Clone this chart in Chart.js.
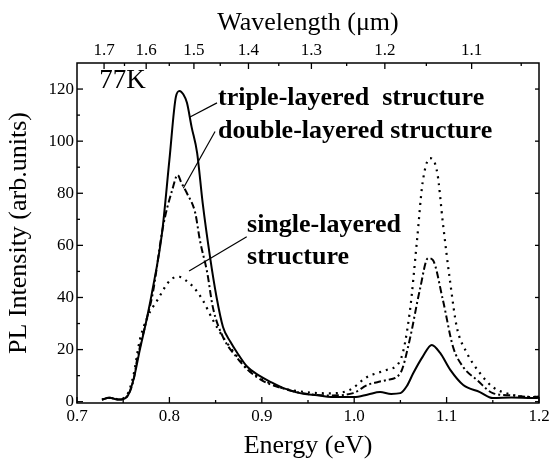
<!DOCTYPE html>
<html lang="en">
<head>
<meta charset="UTF-8">
<title>PL spectra at 77K</title>
<script src="https://cdn.jsdelivr.net/npm/chart.js"></script>
<style>
  body { margin: 0; background: #fff; }
</style>
</head>
<body>
<canvas id="plChart" width="556" height="462"></canvas>
<script>
// tick labels
const energyTicks = [0.7, 0.8, 0.9, 1.0, 1.1, 1.2];
const energyMinor = [0.75, 0.85, 0.95, 1.05, 1.15];
const intensityTicks = [0, 20, 40, 60, 80, 100, 120];
const intensityMinor = [10, 30, 50, 70, 90, 110];
const wavelengthTicks = [1.7, 1.6, 1.5, 1.4, 1.3, 1.2, 1.1];
const wavelengthMinor = [1.65, 1.55, 1.45, 1.35, 1.25, 1.15, 1.05];
const HC = 1.2398; // eV * um

// triple-layered (solid)
const tripleE = [0.727, 0.735, 0.745, 0.754, 0.761, 0.768, 0.775, 0.781, 0.792, 0.800, 0.807, 0.811, 0.815, 0.819, 0.824, 0.830, 0.836, 0.844, 0.851, 0.858, 0.866, 0.873, 0.884, 0.895, 0.910, 0.925, 0.945, 0.960, 0.975, 0.990, 1.000, 1.015, 1.028, 1.040, 1.050, 1.057, 1.064, 1.074, 1.084, 1.093, 1.104, 1.118, 1.136, 1.150, 1.170, 1.193, 1.200];
const tripleI = [0.8, 1.5, 0.8, 1.8, 8.3, 19.9, 31, 41.6, 64.7, 92.8, 117, 119.3, 118, 114.7, 105.5, 95.5, 76.3, 55.5, 40.2, 28.7, 23, 19, 13.5, 10.5, 7.5, 5, 3, 2.5, 1.8, 1.8, 1.8, 2.8, 3.7, 3.0, 3.3, 6, 11, 17.2, 21.8, 18.7, 12.2, 6.4, 3.7, 1.4, 1.6, 1.4, 1.5];

// double-layered (dash-dot)
const doubleE = [0.727, 0.735, 0.745, 0.754, 0.761, 0.765, 0.775, 0.782, 0.793, 0.803, 0.809, 0.813, 0.819, 0.828, 0.833, 0.841, 0.847, 0.858, 0.873, 0.884, 0.901, 0.920, 0.945, 0.974, 0.999, 1.014, 1.025, 1.035, 1.050, 1.060, 1.071, 1.080, 1.085, 1.096, 1.107, 1.118, 1.133, 1.150, 1.170, 1.193, 1.200];
const doubleI = [0.8, 1.5, 0.8, 2, 8, 16, 31, 41.6, 67, 81.2, 87, 84, 80, 72.4, 62, 49.4, 36.3, 24.8, 17, 12.5, 8, 5.4, 3.2, 2.4, 3.3, 6.4, 7.5, 8.3, 11, 23.7, 42.9, 55.1, 54.4, 39, 21, 13.3, 8.3, 3.3, 2.4, 1.8, 2];

// single-layered (dotted)
const singleE = [0.727, 0.735, 0.745, 0.754, 0.761, 0.768, 0.777, 0.787, 0.801, 0.811, 0.818, 0.826, 0.836, 0.847, 0.858, 0.873, 0.884, 0.901, 0.920, 0.945, 0.974, 0.995, 1.014, 1.025, 1.035, 1.050, 1.060, 1.068, 1.074, 1.082, 1.090, 1.096, 1.104, 1.111, 1.122, 1.136, 1.150, 1.172, 1.193, 1.200];
const singleI = [0.8, 1.5, 1, 2.5, 10, 23.7, 33, 39, 46.7, 47.9, 46.5, 44, 39, 31.4, 24.8, 17.5, 12.8, 8.5, 5.5, 3.8, 3.2, 4.5, 9.5, 11, 12.2, 16, 34, 62, 84, 93.5, 87.7, 68.5, 45.5, 28.7, 18.7, 11, 5.6, 2.6, 1.8, 2];

const SERIF = "'Liberation Serif', 'Times New Roman', serif";

// text labels and leader lines, in data units
const labels = [
  { text: '77K', x: 0.724, y: 120.4, bold: false, size: 27 },
  { text: 'triple-layered  structure', x: 0.8526, y: 113.9, bold: true, size: 26 },
  { text: 'double-layered structure', x: 0.8526, y: 101.2, bold: true, size: 26 },
  { text: 'single-layered', x: 0.884, y: 65.1, bold: true, size: 26 },
  { text: 'structure', x: 0.884, y: 52.8, bold: true, size: 26 }
];
const leaders = [
  [0.8515, 114.7, 0.8223, 109.3],
  [0.8494, 103.7, 0.815, 81.9],
  [0.8837, 63.3, 0.8213, 50.2]
];

function toPoints(xs, ys) {
  return xs.map((x, i) => ({ x: x, y: ys[i] }));
}

const framePlugin = {
  id: 'frame',
  afterDatasetsDraw(chart) {
    const { ctx, chartArea: a, scales } = chart;
    ctx.save();
    ctx.strokeStyle = '#000';
    ctx.lineWidth = 1.5;
    ctx.strokeRect(a.left, a.top, a.right - a.left, a.bottom - a.top);
    ctx.lineWidth = 1.3;
    const line = (x1, y1, x2, y2) => {
      ctx.beginPath();
      ctx.moveTo(x1, y1);
      ctx.lineTo(x2, y2);
      ctx.stroke();
    };
    energyTicks.forEach(v => { const x = scales.x.getPixelForValue(v); line(x, a.bottom, x, a.bottom - 6); });
    energyMinor.forEach(v => { const x = scales.x.getPixelForValue(v); line(x, a.bottom, x, a.bottom - 3); });
    wavelengthTicks.forEach(w => { const x = scales.x2.getPixelForValue(HC / w); line(x, a.top, x, a.top + 6); });
    wavelengthMinor.forEach(w => { const x = scales.x2.getPixelForValue(HC / w); line(x, a.top, x, a.top + 3); });
    intensityTicks.forEach(v => {
      const y = scales.y.getPixelForValue(v);
      line(a.left, y, a.left + 6, y);
      line(a.right, y, a.right - 4, y);
    });
    intensityMinor.forEach(v => {
      const y = scales.y.getPixelForValue(v);
      line(a.left, y, a.left + 3, y);
    });

    // annotations
    ctx.fillStyle = '#000';
    ctx.textBaseline = 'alphabetic';
    ctx.textAlign = 'left';
    labels.forEach(l => {
      ctx.font = (l.bold ? 'bold ' : '') + l.size + 'px ' + SERIF;
      ctx.fillText(l.text, scales.x.getPixelForValue(l.x), scales.y.getPixelForValue(l.y));
    });
    ctx.lineWidth = 1.2;
    leaders.forEach(p => {
      line(scales.x.getPixelForValue(p[0]), scales.y.getPixelForValue(p[1]),
           scales.x.getPixelForValue(p[2]), scales.y.getPixelForValue(p[3]));
    });
    ctx.restore();
  }
};

const tickFont = { family: SERIF, size: 17 };
const titleFont = { family: SERIF, size: 26 };

new Chart(document.getElementById('plChart'), {
  type: 'scatter',
  data: {
    datasets: [
      {
        label: 'triple-layered structure',
        data: toPoints(tripleE, tripleI),
        showLine: true,
        borderColor: '#000',
        borderWidth: 2,
        cubicInterpolationMode: 'monotone'
      },
      {
        label: 'double-layered structure',
        data: toPoints(doubleE, doubleI),
        showLine: true,
        borderColor: '#000',
        borderWidth: 2,
        borderDash: [7, 3, 2, 3],
        cubicInterpolationMode: 'monotone'
      },
      {
        label: 'single-layered structure',
        data: toPoints(singleE, singleI),
        showLine: true,
        borderColor: '#000',
        borderWidth: 2.2,
        borderDash: [2, 5],
        cubicInterpolationMode: 'monotone'
      }
    ]
  },
  options: {
    responsive: false,
    animation: false,
    layout: { padding: { right: 17 } },
    elements: { point: { radius: 0 } },
    plugins: {
      legend: { display: false },
      tooltip: { enabled: false }
    },
    scales: {
      x: {
        type: 'linear',
        position: 'bottom',
        min: 0.7,
        max: 1.2,
        afterBuildTicks: s => { s.ticks = energyTicks.map(v => ({ value: v })); },
        afterFit: s => { s.height = 59; },
        ticks: {
          callback: v => v.toFixed(1),
          font: tickFont, color: '#000', padding: 3, maxRotation: 0, autoSkip: false
        },
        grid: { display: false, drawTicks: false },
        border: { display: false },
        title: { display: true, text: 'Energy (eV)', font: titleFont, color: '#000', padding: { top: 0, bottom: 0 } }
      },
      x2: {
        type: 'linear',
        position: 'top',
        min: 0.7,
        max: 1.2,
        afterBuildTicks: s => { s.ticks = wavelengthTicks.map(w => ({ value: HC / w })); },
        afterFit: s => { s.height = 63; },
        ticks: {
          callback: (v, i) => wavelengthTicks[i].toFixed(1),
          font: tickFont, color: '#000', padding: 2, maxRotation: 0, autoSkip: false
        },
        grid: { display: false, drawTicks: false },
        border: { display: false },
        title: { display: true, text: 'Wavelength (μm)', font: titleFont, color: '#000', padding: { top: 8, bottom: 0 } }
      },
      y: {
        type: 'linear',
        min: -0.5,
        max: 130,
        afterBuildTicks: s => { s.ticks = intensityTicks.map(v => ({ value: v })); },
        afterFit: s => { s.width = 77; },
        ticks: { font: tickFont, color: '#000', padding: 3 },
        grid: { display: false, drawTicks: false },
        border: { display: false },
        title: { display: true, text: 'PL Intensity (arb.units)', font: titleFont, color: '#000', padding: { top: 4, bottom: 0 } }
      }
    }
  },
  plugins: [framePlugin]
});
</script>
</body>
</html>
